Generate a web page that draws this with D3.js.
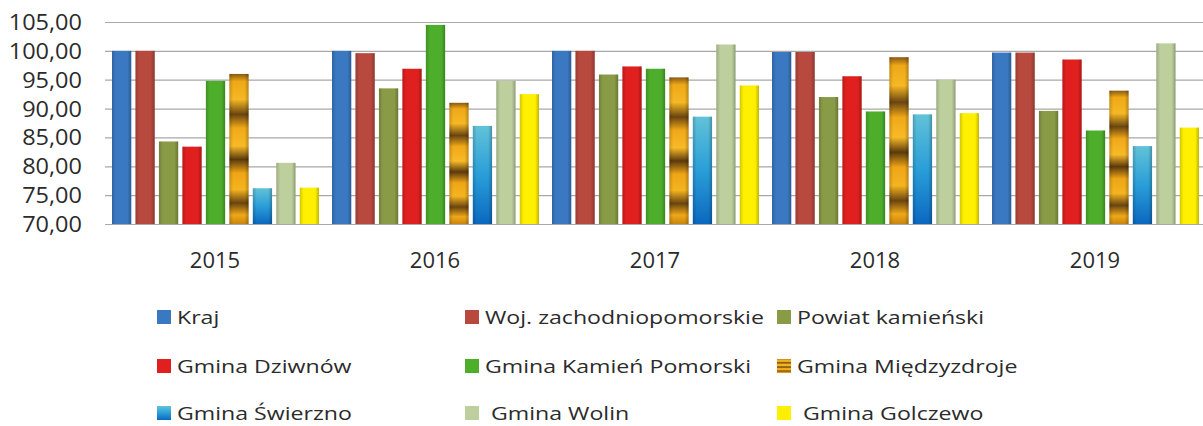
<!DOCTYPE html>
<html>
<head>
<meta charset="utf-8">
<script src="https://cdn.jsdelivr.net/npm/d3@7"></script>
<style>
  body { margin: 0; background: #fff; }
  text { font-family: 'Open Sans', sans-serif; fill: #2b2b2b; white-space: pre; }
</style>
</head>
<body>
<script>
// data
var years = ['2015', '2016', '2017', '2018', '2019'];
var seriesNames = [
  'Kraj',
  'Woj. zachodniopomorskie',
  'Powiat kamieński',
  'Gmina Dziwnów',
  'Gmina Kamień Pomorski',
  'Gmina Międzyzdroje',
  'Gmina Świerzno',
  'Gmina Wolin',
  'Gmina Golczewo'
];
var kraj = [100.0, 100.0, 100.0, 99.8, 99.7];
var woj = [100.0, 99.6, 100.0, 99.8, 99.7];
var powiat = [84.3, 93.5, 95.9, 92.0, 89.6];
var dziwnow = [83.4, 96.9, 97.3, 95.6, 98.5];
var kamien = [94.8, 104.5, 96.9, 89.5, 86.2];
var miedzyzdroje = [96.0, 91.0, 95.4, 98.9, 93.1];
var swierzno = [76.2, 87.0, 88.6, 89.0, 83.5];
var wolin = [80.6, 94.8, 101.1, 95.0, 101.3];
var golczewo = [76.3, 92.5, 94.0, 89.2, 86.7];
var yTicks = [70, 75, 80, 85, 90, 95, 100, 105];

var values = [kraj, woj, powiat, dziwnow, kamien, miedzyzdroje, swierzno, wolin, golczewo];
var colors = ['#3b78c2', '#b8493f', '#8a9b47', '#e0201e', '#4dae2c', '#f2ae1a', '#3aa6d8', '#becf9e', '#fff000'];
// legend labels (row 3 has an extra leading space in the original)
var legendLabels = seriesNames.map(function (d, i) {
  return i >= 7 ? ' ' + d : d;
});

var width = 1203,
  height = 426;

var svg = d3
  .select('body')
  .append('svg')
  .attr('width', width)
  .attr('height', height);

var defs = svg.append('defs');

// gold banded gradient
var gold = defs
  .append('linearGradient')
  .attr('id', 'fill-5')
  .attr('x1', 0)
  .attr('y1', 0)
  .attr('x2', 0)
  .attr('y2', 1);
[
  [0, '#8a5a12'],
  [0.05, '#eea818'],
  [0.17, '#f6b824'],
  [0.27, '#6a4510'],
  [0.36, '#f0a818'],
  [0.48, '#f8ba28'],
  [0.57, '#5a3a0c'],
  [0.66, '#efa516'],
  [0.77, '#f5b420'],
  [0.86, '#6a4510'],
  [0.94, '#f0a818'],
  [1, '#c8860e']
].forEach(function (s) {
  gold.append('stop').attr('offset', s[0]).attr('stop-color', s[1]);
});

// cyan to blue gradient
var cyan = defs
  .append('linearGradient')
  .attr('id', 'fill-6')
  .attr('x1', 0)
  .attr('y1', 0)
  .attr('x2', 0)
  .attr('y2', 1);
cyan.append('stop').attr('offset', 0).attr('stop-color', '#62c2d8');
cyan.append('stop').attr('offset', 0.5).attr('stop-color', '#2a9ed8');
cyan.append('stop').attr('offset', 1).attr('stop-color', '#0b68c0');

// edge shading overlay
var edge = defs
  .append('linearGradient')
  .attr('id', 'edge')
  .attr('x1', 0)
  .attr('y1', 0)
  .attr('x2', 1)
  .attr('y2', 0);
edge.append('stop').attr('offset', 0).attr('stop-color', '#000').attr('stop-opacity', 0.18);
edge.append('stop').attr('offset', 0.2).attr('stop-color', '#000').attr('stop-opacity', 0);
edge.append('stop').attr('offset', 0.8).attr('stop-color', '#000').attr('stop-opacity', 0);
edge.append('stop').attr('offset', 1).attr('stop-color', '#000').attr('stop-opacity', 0.25);

function fillFor(i) {
  return i === 5 || i === 6 ? 'url(#fill-' + i + ')' : colors[i];
}

// scales
var x0 = d3.scaleBand().domain(years).range([105, 1205]);
var x1 = d3.scaleBand().domain(d3.range(seriesNames.length)).range([7, 214]).paddingInner(0.18);
var y = d3.scaleLinear().domain([70, 105]).range([224, 22]);

var comma = d3.formatLocale({ decimal: ',', thousands: ' ', grouping: [3], currency: ['', ''] }).format('.2f');

// gridlines
var grid = svg
  .append('g')
  .attr('transform', 'translate(105,0)')
  .call(d3.axisLeft(y).tickValues(yTicks).tickSize(-1100).tickFormat(''));
grid.select('.domain').remove();
grid.selectAll('line').attr('stroke', '#a8a8a8').attr('stroke-width', 1.2);

// y labels
var yAxis = svg
  .append('g')
  .attr('transform', 'translate(82,0)')
  .call(d3.axisLeft(y).tickValues(yTicks).tickSize(0).tickPadding(0).tickFormat(comma));
yAxis.select('.domain').remove();
yAxis
  .selectAll('text')
  .attr('font-family', null)
  .attr('font-size', null)
  .style('font-size', '21px')
  .attr('dy', '0.36em')
  .attr('transform', 'scale(1.12,1)');

// bars
var groups = svg
  .append('g')
  .selectAll('g')
  .data(years)
  .join('g')
  .attr('transform', function (d) {
    return 'translate(' + x0(d) + ',0)';
  });

groups.each(function (yr, yi) {
  var g = d3.select(this);
  var rows = values.map(function (v, si) {
    return { si: si, v: v[yi] };
  });
  g.selectAll('rect.bar')
    .data(rows)
    .join('rect')
    .attr('class', 'bar')
    .attr('x', function (d) { return x1(d.si); })
    .attr('y', function (d) { return y(d.v); })
    .attr('width', x1.bandwidth())
    .attr('height', function (d) { return y(70) - y(d.v); })
    .attr('fill', function (d) { return fillFor(d.si); });
  g.selectAll('rect.edge')
    .data(rows)
    .join('rect')
    .attr('class', 'edge')
    .attr('x', function (d) { return x1(d.si); })
    .attr('y', function (d) { return y(d.v); })
    .attr('width', x1.bandwidth())
    .attr('height', function (d) { return y(70) - y(d.v); })
    .attr('fill', 'url(#edge)');
});

// x labels
var xAxis = svg
  .append('g')
  .attr('transform', 'translate(0,224)')
  .call(d3.axisBottom(x0).tickSize(0).tickPadding(28));
xAxis.select('.domain').remove();
xAxis
  .selectAll('text')
  .attr('font-family', null)
  .attr('font-size', null)
  .style('font-size', '22px');

// legend
var legendCols = [157, 465, 777],
  legendRows = [317, 366, 413];

var legend = svg
  .append('g')
  .selectAll('g')
  .data(legendLabels)
  .join('g')
  .attr('transform', function (d, i) {
    return 'translate(' + legendCols[i % 3] + ',' + legendRows[Math.floor(i / 3)] + ')';
  });

legend
  .append('rect')
  .attr('x', 0)
  .attr('y', -7)
  .attr('width', 14)
  .attr('height', 14)
  .attr('fill', function (d, i) { return fillFor(i); });

legend
  .append('text')
  .attr('transform', 'translate(20,7) scale(1.25,1)')
  .style('font-size', '18.5px')
  .text(function (d) { return d; });
</script>
</body>
</html>
